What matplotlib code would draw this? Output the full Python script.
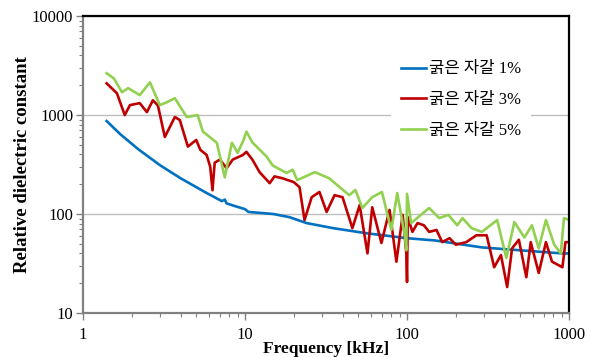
import numpy as np
import matplotlib.pyplot as plt
from matplotlib.ticker import FuncFormatter, LogLocator

# series (frequency in kHz, relative dielectric constant)
f_1 = [1.4, 1.7, 2.2, 3.0, 4.0, 5.8, 7.2, 7.5, 7.7, 9.0, 10, 10.5, 15, 18.8, 24, 35, 56, 100, 150, 290, 500, 910, 1000]
v_1 = [870, 640, 450, 310, 230, 163, 135, 140, 128, 118, 112, 105, 100, 93, 81, 72, 64, 57, 54, 46, 43, 40, 40]

f_3 = [1.4, 1.62, 1.81, 1.95, 2.24, 2.48, 2.7, 2.9, 3.2, 3.69, 3.96, 4.44, 5.0, 5.3, 5.8, 6.1, 6.3, 6.5, 7.0,
       7.7, 8.4, 9.7, 10.2, 11.1, 12.3, 14.2, 15.2, 17, 20, 21.7, 23.3, 25.8, 28.8, 31.9, 35.7, 40, 46, 51,
       57, 61, 69.5, 78, 86, 94, 99, 100, 101, 108, 116, 127, 137, 152, 165, 183, 200, 232, 268, 310, 345,
       380, 415, 445, 490, 545, 580, 650, 720, 785, 910, 950, 1000]
v_3 = [2090, 1660, 1000, 1260, 1320, 1070, 1410, 1250, 600, 955, 890, 480, 560, 445, 395, 300, 174, 330, 355,
       290, 355, 395, 425, 355, 265, 205, 240, 230, 210, 187, 87, 148, 167, 105, 155, 148, 72, 123,
       40, 117, 51, 110, 33, 98, 40, 20.6, 93, 66, 81, 77, 66, 69, 52, 57, 49, 52, 61, 61, 29,
       38.5, 18.3, 45, 55, 23, 52, 25.4, 52, 33, 29, 52, 52]

f_5 = [1.4, 1.55, 1.74, 1.9, 2.24, 2.59, 2.98, 3.3, 3.69, 4.37, 5.1, 5.5, 6.7, 7.5, 8.3, 9.0, 9.8, 10.2, 11.1,
       13.6, 14.8, 18, 19.7, 21, 27, 33, 44, 48, 53, 61, 70, 80, 87, 97, 99, 100, 106, 137, 158, 180,
       204, 220, 250, 290, 360, 410, 460, 530, 590, 650, 720, 810, 890, 930, 1000]
v_5 = [2640, 2350, 1700, 1870, 1590, 2140, 1260, 1350, 1480, 955, 1000, 680, 525, 235, 525, 415, 560, 680, 530,
       380, 310, 260, 280, 220, 265, 230, 155, 175, 115, 148, 167, 69, 163, 60, 43, 160, 81, 115, 91, 98,
       77, 91, 72, 66, 87, 36, 83, 58, 77, 45, 87, 49, 40, 91, 87]

labels = ['굵은 자갈 1%', '굵은 자갈 3%', '굵은 자갈 5%']
colors = ['#0070C0', '#C00000', '#92D050']

plt.rcParams['font.family'] = ['Liberation Serif', 'Noto Sans CJK KR']

fig = plt.figure(figsize=(5.94, 3.57), dpi=100)
ax = fig.add_axes([0.1397, 0.1232, 0.8183, 0.8318])

ax.plot(f_1, v_1, color=colors[0], lw=1.9, label=labels[0])
ax.plot(f_3, v_3, color=colors[1], lw=1.9, label=labels[1])
ax.plot(f_5, v_5, color=colors[2], lw=1.9, label=labels[2])

ax.set_xscale('log')
ax.set_yscale('log')
ax.set_xlim(1, 1000)
ax.set_ylim(10, 10000)

fmt = FuncFormatter(lambda x, p: '%g' % x)
ax.xaxis.set_major_formatter(fmt)
ax.yaxis.set_major_formatter(fmt)
ax.xaxis.set_minor_locator(LogLocator(base=10, subs=np.arange(2, 10)))
ax.yaxis.set_minor_locator(LogLocator(base=10, subs=np.arange(2, 10)))
ax.xaxis.set_minor_formatter(FuncFormatter(lambda x, p: ''))
ax.yaxis.set_minor_formatter(FuncFormatter(lambda x, p: ''))

ax.tick_params(which='major', length=5, width=1, color='#808080', labelsize=12, pad=2)
ax.tick_params(which='minor', length=3, width=0.8, color='#808080')
ax.tick_params(axis='x', pad=5)

ax.yaxis.grid(True, which='major', color='#bfbfbf', lw=1)
ax.set_axisbelow(True)

for s in ['left', 'bottom']:
    ax.spines[s].set_color('#808080')
    ax.spines[s].set_linewidth(1.6)
for s in ['top', 'right']:
    ax.spines[s].set_color('black')
    ax.spines[s].set_linewidth(1.6)

ax.set_xlabel('Frequency [kHz]', fontsize=12.5, fontweight='bold')
ax.xaxis.set_label_coords(0.5, -0.12, transform=ax.transAxes)
ax.xaxis.label.set_va('center')
ax.set_ylabel('Relative dielectric constant', fontsize=13.5, fontweight='bold')
ax.yaxis.set_label_coords(-0.125, 0.5, transform=ax.transAxes)
ax.yaxis.label.set_va('center')

leg = ax.legend(loc='center', bbox_to_anchor=(0.778, 0.717), frameon=True, fontsize=12,
                handlelength=1.5, handletextpad=0.2, labelspacing=0.88, borderpad=0.6)
leg.get_frame().set_facecolor('white')
leg.get_frame().set_edgecolor('none')
leg.get_frame().set_alpha(1)

fig.savefig('out.png', dpi=100)
